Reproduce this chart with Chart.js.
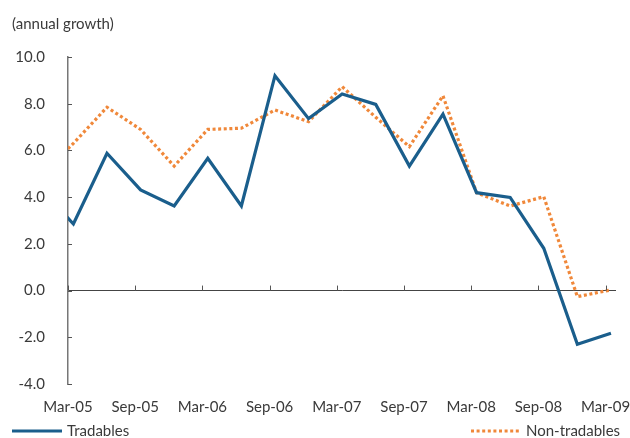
<!DOCTYPE html>
<html>
<head>
<meta charset="utf-8">
<script src="https://cdn.jsdelivr.net/npm/chart.js@4/dist/chart.umd.min.js"></script>
<style>
  html, body { margin: 0; padding: 0; background: #fff; }
  #wrap { width: 630px; height: 438px; }
</style>
</head>
<body>
<div id="wrap"><canvas id="mycanvas" width="630" height="438"></canvas></div>
<script>
// quarterly data, first quarter sits just left of the axis and is clipped
var quarters = ['Dec-04','Mar-05','Jun-05','Sep-05','Dec-05','Mar-06','Jun-06','Sep-06','Dec-06',
  'Mar-07','Jun-07','Sep-07','Dec-07','Mar-08','Jun-08','Sep-08','Dec-08','Mar-09'];
var tradables = [4.4, 2.85, 5.88, 4.31, 3.62, 5.66, 3.62, 9.2, 7.36, 8.42, 7.97, 5.33, 7.55, 4.19, 3.99, 1.81, -2.3, -1.83];
var nonTradables = [4.9, 6.3, 7.85, 6.9, 5.33, 6.9, 6.95, 7.73, 7.23, 8.73, 7.42, 6.16, 8.34, 4.19, 3.62, 4.02, -0.26, 0.03];
var tickLabels = ['Mar-05','Sep-05','Mar-06','Sep-06','Mar-07','Sep-07','Mar-08','Sep-08','Mar-09'];
var yTicks = [-4, -2, 0, 2, 4, 6, 8, 10];

var blue = '#1a5e8c';
var orange = '#f0883a';
var textColor = '#3a3a3a';
var fontFamily = 'Lato, "Open Sans", sans-serif';
var tickShift = 0.16;

function toPoints(arr) {
	var out = [];
	for (var i in arr) {
		out.push({x: +i, y: arr[i]});
	}
	return out;
}

var extras = {
	id: 'extras',
	afterDraw: function(chart) {
		var c = chart.ctx;
		var xs = chart.scales.x, ys = chart.scales.y;
		var area = chart.chartArea;
		var y0 = ys.getPixelForValue(0);
		c.save();
		// tick marks on zero line and y axis
		c.strokeStyle = '#555';
		c.lineWidth = 1;
		xs.ticks.forEach(function(t) {
			var px = Math.round(xs.getPixelForValue(t.value)) + 0.5;
			c.beginPath(); c.moveTo(px, y0); c.lineTo(px, y0 - 5); c.stroke();
		});
		ys.ticks.forEach(function(t) {
			var py = Math.round(ys.getPixelForValue(t.value)) + 0.5;
			c.beginPath(); c.moveTo(area.left, py); c.lineTo(area.left + 4, py); c.stroke();
		});
		// title
		c.fillStyle = textColor;
		c.font = '15px ' + fontFamily;
		c.textBaseline = 'middle';
		c.textAlign = 'left';
		c.fillText('(annual growth)', 12, 24);
		// legend
		var ds = chart.data.datasets;
		var ly = 431;
		c.lineWidth = 3;
		c.strokeStyle = ds[0].borderColor;
		c.setLineDash([]);
		c.beginPath(); c.moveTo(12, ly); c.lineTo(62, ly); c.stroke();
		c.fillText(ds[0].label, 67, ly);
		c.strokeStyle = ds[1].borderColor;
		c.setLineDash(ds[1].borderDash);
		c.beginPath(); c.moveTo(471, ly); c.lineTo(521, ly); c.stroke();
		c.setLineDash([]);
		c.fillText(ds[1].label, 526, ly);
		c.restore();
	}
};

var chartdata = {
	datasets: [
		{
			label: 'Tradables',
			data: toPoints(tradables),
			borderColor: blue,
			borderWidth: 3.2,
			pointRadius: 0,
			tension: 0,
			clip: 0
		},
		{
			label: 'Non-tradables',
			data: toPoints(nonTradables),
			borderColor: orange,
			borderWidth: 3.2,
			borderDash: [3, 2.6],
			pointRadius: 0,
			tension: 0,
			clip: 0
		}
	]
};

var ctx = document.getElementById('mycanvas');

var lineGraph = new Chart(ctx, {
	type: 'line',
	data: chartdata,
	plugins: [extras],
	options: {
		responsive: false,
		animation: false,
		layout: { padding: { top: 57, right: 14, bottom: 0, left: 0 } },
		plugins: {
			legend: { display: false },
			tooltip: { enabled: false }
		},
		scales: {
			x: {
				type: 'linear',
				min: 1 - tickShift,
				max: 17.15,
				afterFit: function(s) {
					s.height = 54;
					s.paddingLeft = 0;
					s.paddingRight = 0;
				},
				afterBuildTicks: function(s) {
					s.ticks = tickLabels.map(function(l) {
						return { value: quarters.indexOf(l) - tickShift };
					});
				},
				grid: { drawOnChartArea: false, drawTicks: false },
				border: { display: false },
				ticks: {
					autoSkip: false,
					maxRotation: 0,
					padding: 14,
					color: textColor,
					font: { family: fontFamily, size: 15 },
					callback: function(v) {
						return quarters[Math.round(v + tickShift)];
					}
				}
			},
			y: {
				min: -4,
				max: 10,
				afterFit: function(s) {
					s.width = 68;
					s.paddingTop = 0;
					s.paddingBottom = 0;
				},
				afterBuildTicks: function(s) {
					s.ticks = yTicks.map(function(v) { return { value: v }; });
				},
				grid: {
					drawTicks: false,
					color: function(c) { return c.tick && c.tick.value === 0 ? '#444' : 'rgba(0,0,0,0)'; },
					lineWidth: 1
				},
				border: { display: true, color: '#777', width: 1.5 },
				ticks: {
					padding: 23,
					color: textColor,
					font: { family: fontFamily, size: 15 },
					callback: function(v) { return v.toFixed(1); }
				}
			}
		}
	}
});
</script>
</body>
</html>
